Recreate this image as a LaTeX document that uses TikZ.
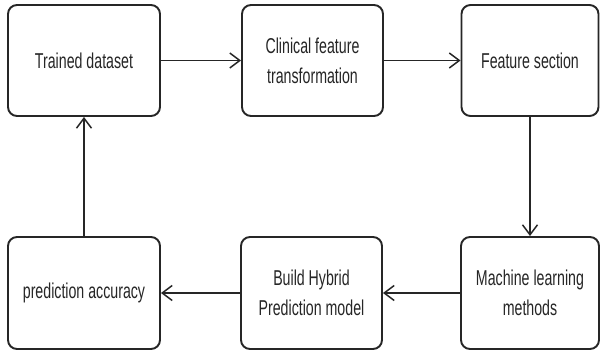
\documentclass[tikz,border=0pt]{standalone}
\usepackage{fontspec}
\setmainfont{Liberation Sans}[FakeStretch=0.66]
\usetikzlibrary{arrows.meta}
\tikzset{
  box/.style={draw=black!85, line width=1.9pt, rounded corners=9pt, fill=white,
    align=center, inner sep=0pt, font=\fontsize{21.5}{30}\selectfont, text=black!85},
  flow/.style={draw=black!85, line width=1.7pt, -{Straight Barb[length=10pt,width=15pt,line width=1.5pt]}}
}
\begin{document}
\begin{tikzpicture}[x=1pt,y=-1pt]
\useasboundingbox (0,0) rectangle (600,353);
\node[box, minimum width=152pt, minimum height=111pt] (b1) at (84,60.5) {Trained dataset};
\node[box, minimum width=141pt, minimum height=111pt] (b2) at (312.5,60.5) {Clinical feature\\transformation};
\node[box, minimum width=137pt, minimum height=111pt] (b3) at (530,60.5) {Feature section};
\node[box, minimum width=152pt, minimum height=112pt] (b4) at (84,293) {prediction accuracy};
\node[box, minimum width=141pt, minimum height=112pt] (b5) at (311.5,293) {Build Hybrid\\Prediction model};
\node[box, minimum width=138pt, minimum height=112pt] (b6) at (530,293) {Machine learning\\methods};
\draw[flow] (b1) -- (b2);
\draw[flow] (b2) -- (b3);
\draw[flow] (b3) -- (b6);
\draw[flow] (b6) -- (b5);
\draw[flow] (b5) -- (b4);
\draw[flow] (b4) -- (b1);
\end{tikzpicture}
\end{document}
